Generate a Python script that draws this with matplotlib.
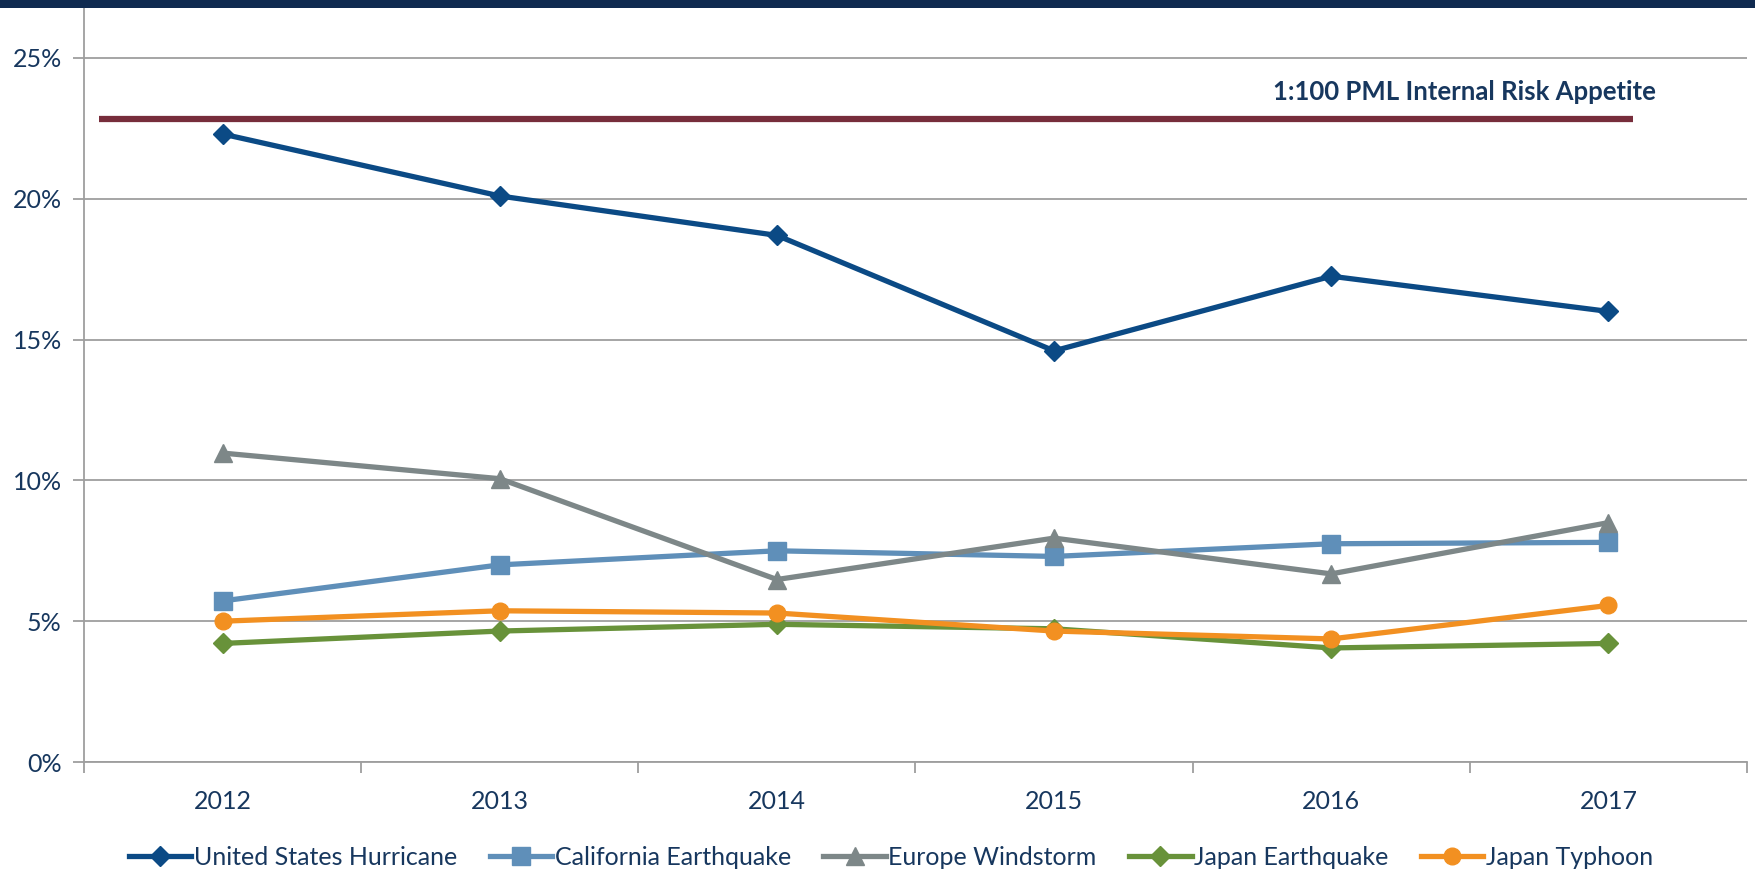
import matplotlib
matplotlib.use("Agg")
import matplotlib.pyplot as plt
from matplotlib.patches import Rectangle
from matplotlib.ticker import FixedLocator

years = ["2012", "2013", "2014", "2015", "2016", "2017"]
us_hurricane = [22.3, 20.1, 18.7, 14.6, 17.25, 16.0]
california_eq = [5.72, 7.0, 7.5, 7.3, 7.75, 7.8]
europe_windstorm = [10.97, 10.06, 6.48, 7.95, 6.68, 8.5]
japan_eq = [4.21, 4.65, 4.89, 4.73, 4.05, 4.21]
japan_typhoon = [5.0, 5.37, 5.29, 4.65, 4.37, 5.56]
risk_appetite = 22.85
risk_label = "1:100 PML Internal Risk Appetite"
y_ticks = [0, 5, 10, 15, 20, 25]

plt.rcParams['font.family'] = ['Lato', 'DejaVu Sans']
navy = "#17375E"

fig = plt.figure(figsize=(17.56, 8.71), dpi=100)
W, H = 1756, 871
ax = fig.add_axes([84 / W, 1 - 762 / H, (1747 - 84) / W, (762 - 7) / H])

# top band
fig.patches.append(Rectangle((0, 1 - 8 / H), 1, 8 / H, transform=fig.transFigure,
                             facecolor="#0F2A50", edgecolor="none", zorder=10))

x = list(range(len(years)))
series = [
    ("United States Hurricane", us_hurricane, "#0B4A85", "D", 10),
    ("California Earthquake", california_eq, "#5F8FB9", "s", 13),
    ("Europe Windstorm", europe_windstorm, "#7D8788", "^", 13),
    ("Japan Earthquake", japan_eq, "#68923A", "D", 10),
    ("Japan Typhoon", japan_typhoon, "#F29021", "o", 12),
]
for name, vals, col, mk, ms in series:
    ax.plot(x, vals, color=col, lw=3.8, marker=mk, ms=ms, mec=col, mfc=col,
            label=name, zorder=3, solid_joinstyle="miter")

ax.plot([-0.445, 5.09], [risk_appetite, risk_appetite], color="#772D3B", lw=4.5,
        solid_capstyle="butt", zorder=2)
ax.text(5.17, risk_appetite + 0.5, risk_label, ha="right", va="bottom",
        fontsize=18.5, fontweight="bold", color=navy)

ax.set_xlim(-0.5, 5.5)
ax.set_ylim(0, 26.81)
ax.set_yticks(y_ticks)
ax.set_yticklabels([f"{t}%" for t in y_ticks])
ax.yaxis.grid(True, color="#9E9E9E", lw=1.3)
ax.set_axisbelow(True)

ax.set_xticks(x)
ax.set_xticklabels(years)
ax.xaxis.set_minor_locator(FixedLocator([i - 0.5 for i in range(len(years) + 1)]))
ax.tick_params(axis="x", which="major", length=0, pad=20, labelsize=18, labelcolor=navy)
ax.tick_params(axis="x", which="minor", length=8, width=1.3, color="#9E9E9E", direction="out")
ax.tick_params(axis="y", length=8, width=1.3, color="#9E9E9E", labelsize=18,
               labelcolor=navy, pad=8)

for s in ["top", "right"]:
    ax.spines[s].set_visible(False)
for s in ["left", "bottom"]:
    ax.spines[s].set_color("#9E9E9E")
    ax.spines[s].set_linewidth(1.3)

leg = fig.legend(loc="center", bbox_to_anchor=(0.5 + 13 / W, 1 - 857 / H), ncol=5,
                 frameon=False, fontsize=18, handlelength=2.5, columnspacing=1.3,
                 handletextpad=0.1, labelcolor=navy)

fig.savefig("out.png", dpi=100)
